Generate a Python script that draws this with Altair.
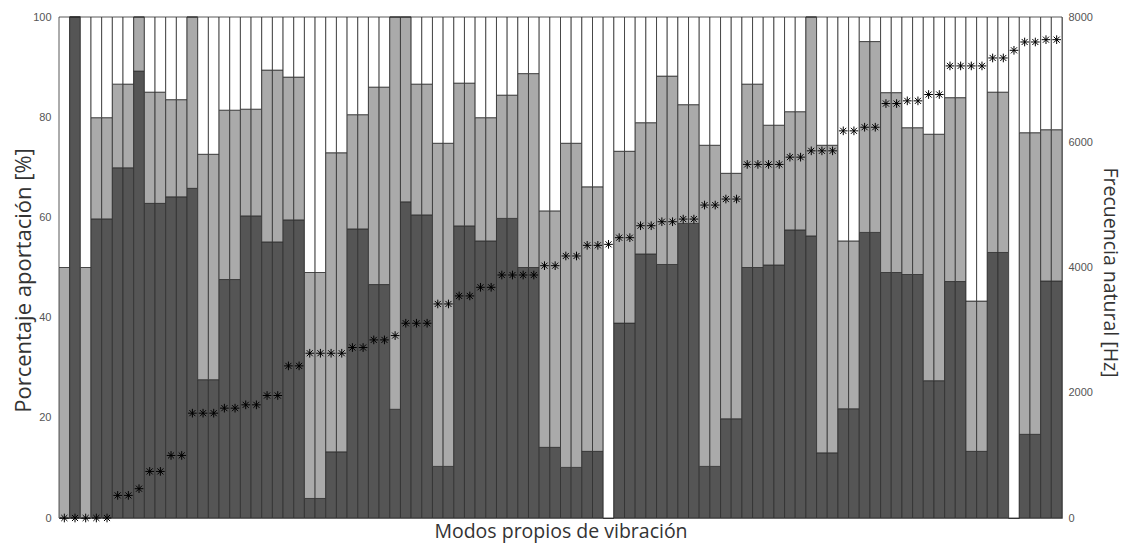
import altair as alt
import pandas as pd

# Cumulative tops of the dark and light segments (percent), one per mode
dark_top = [0, 100, 0, 59.7, 59.7, 69.9, 69.9, 89.2, 62.8, 62.8,
            64.1, 64.1, 65.8, 27.6, 27.6, 47.6, 47.6, 60.3, 60.3, 55.1,
            55.1, 59.5, 59.5, 3.9, 3.9, 13.2, 13.2, 57.7, 57.7, 46.6,
            46.6, 21.7, 63.1, 60.5, 60.5, 10.3, 10.3, 58.3, 58.3, 55.3,
            55.3, 59.8, 59.8, 50.0, 50.0, 14.1, 14.1, 10.1, 10.1, 13.3,
            13.3, 0, 38.9, 38.9, 52.7, 52.7, 50.6, 50.6, 58.8, 58.8,
            10.3, 10.3, 19.8, 19.8, 50.0, 50.0, 50.5, 50.5, 57.5, 57.5,
            56.3, 13.0, 13.0, 21.8, 21.8, 57.0, 57.0, 49.0, 49.0, 48.6,
            48.6, 27.4, 27.4, 47.2, 47.2, 13.3, 13.3, 53.0, 53.0, 0,
            16.7, 16.7, 47.3, 47.3]
light_top = [50, 100, 50, 79.9, 79.9, 86.6, 86.6, 100, 85.0, 85.0,
             83.5, 83.5, 100, 72.6, 72.6, 81.4, 81.4, 81.6, 81.6, 89.4,
             89.4, 88.0, 88.0, 49.0, 49.0, 72.9, 72.9, 80.5, 80.5, 86.0,
             86.0, 100, 100, 86.6, 86.6, 74.8, 74.8, 86.8, 86.8, 79.9,
             79.9, 84.4, 84.4, 88.7, 88.7, 61.3, 61.3, 74.8, 74.8, 66.1,
             66.1, 0, 73.2, 73.2, 78.9, 78.9, 88.2, 88.2, 82.5, 82.5,
             74.4, 74.4, 68.8, 68.8, 86.6, 86.6, 78.4, 78.4, 81.1, 81.1,
             100, 74.4, 74.4, 55.3, 55.3, 95.1, 95.1, 84.9, 84.9, 77.9,
             77.9, 76.6, 76.6, 83.9, 83.9, 43.3, 43.3, 85.0, 85.0, 0,
             76.9, 76.9, 77.5, 77.5]
# Natural frequency of each mode [Hz]
freq = [0, 0, 0, 0, 0, 361, 361, 468, 744, 744,
        999, 999, 1674, 1674, 1674, 1754, 1754, 1807, 1807, 1956,
        1956, 2429, 2429, 2631, 2631, 2631, 2631, 2722, 2722, 2844,
        2844, 2913, 3110, 3110, 3110, 3418, 3418, 3546, 3546, 3684,
        3684, 3880, 3880, 3880, 3880, 4029, 4029, 4184, 4184, 4354,
        4354, 4370, 4476, 4476, 4667, 4667, 4731, 4731, 4773, 4773,
        4997, 4997, 5093, 5093, 5646, 5646, 5646, 5646, 5762, 5762,
        5863, 5863, 5863, 6182, 6182, 6240, 6240, 6618, 6618, 6661,
        6661, 6762, 6762, 7219, 7219, 7219, 7219, 7346, 7346, 7468,
        7601, 7601, 7638, 7638]

modes = list(range(1, len(freq) + 1))
seg_names = ["Oscuro", "Claro", "Blanco"]
seg_colors = ["#555555", "#aaaaaa", "#ffffff"]

rows = []
for m, d, l in zip(modes, dark_top, light_top):
    rows.append({"modo": m, "seg": seg_names[0], "y0": 0, "y1": d})
    rows.append({"modo": m, "seg": seg_names[1], "y0": d, "y1": l})
    rows.append({"modo": m, "seg": seg_names[2], "y0": l, "y1": 100})
bars_df = pd.DataFrame(rows)
freq_df = pd.DataFrame({"modo": modes, "freq": freq})

x_enc = alt.X("modo:O", scale=alt.Scale(paddingInner=0, paddingOuter=0),
              axis=alt.Axis(labels=False, ticks=False, domain=True, domainColor="#8c8c8c",
                            title="Modos propios de vibración", titleFont="Open Sans",
                            titleFontSize=19.5, titleFontWeight="normal", titleColor="#333333",
                            titlePadding=4))

bars = alt.Chart(bars_df).mark_bar(stroke="#2e2e2e", strokeWidth=0.8).encode(
    x=x_enc,
    y=alt.Y("y0:Q", scale=alt.Scale(domain=[0, 100], nice=False),
            axis=alt.Axis(values=[0, 20, 40, 60, 80, 100], ticks=False, grid=False,
                          labelFont="Liberation Sans", labelFontSize=11, labelColor="#555555",
                          labelPadding=8, domainColor="#8c8c8c",
                          title="Porcentaje aportación [%]", titleFont="Open Sans",
                          titleFontSize=22, titleFontWeight="normal", titleColor="#333333",
                          titleX=-36, titleY=263, titleBaseline="middle")),
    y2="y1:Q",
    color=alt.Color("seg:N", scale=alt.Scale(domain=seg_names, range=seg_colors), legend=None),
)

asterisk = "M0,-1L0,1M-1,0L1,0M-0.7,-0.7L0.7,0.7M-0.7,0.7L0.7,-0.7"
points = alt.Chart(freq_df).mark_point(shape=asterisk, filled=False, stroke="#000000",
                                       strokeWidth=1, size=75, opacity=1).encode(
    x=alt.X("modo:O"),
    y=alt.Y("freq:Q", scale=alt.Scale(domain=[0, 8000], nice=False),
            axis=alt.Axis(orient="right", values=[0, 2000, 4000, 6000, 8000], format="d",
                          ticks=False, grid=False, labelFont="Liberation Sans",
                          labelFontSize=11, labelColor="#555555", labelPadding=6,
                          domainColor="#8c8c8c",
                          title="Frecuencia natural [Hz]", titleFont="Open Sans",
                          titleFontSize=19.5, titleFontWeight="normal", titleColor="#333333",
                          titleX=47, titleY=255, titleBaseline="middle", titleAngle=90)),
)

chart = alt.layer(bars, points).resolve_scale(y="independent").properties(
    width=1003, height=501,
    autosize=alt.AutoSizeParams(type="none"),
    padding={"left": 51, "top": 9, "right": 61, "bottom": 25},
).configure_view(stroke="#8c8c8c", strokeWidth=1)

chart.save("out.html", embed_options={"renderer": "svg", "actions": False})
